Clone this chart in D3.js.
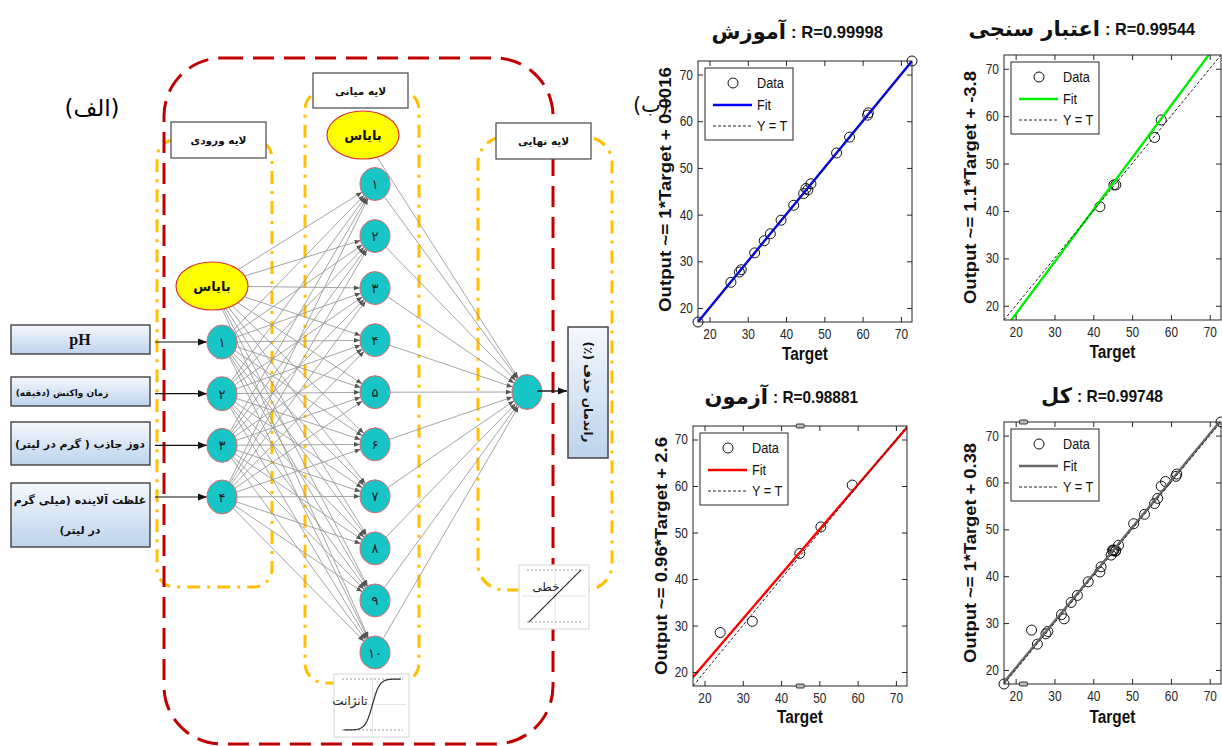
<!DOCTYPE html>
<html><head><meta charset="utf-8">
<script src="https://cdn.jsdelivr.net/npm/d3@7/dist/d3.min.js"></script>
<style>body{margin:0;background:#fff}svg{display:block}</style>
</head><body><svg id="c" width="1222" height="746"></svg>
<script>
// ---------------- DATA ----------------
const trainTarget = [17.0, 25.6, 27.8, 28.3, 31.8, 34.3, 35.9, 38.7, 42.0, 44.6, 45.2, 45.7, 46.5, 53.2, 56.6, 61.3, 61.5, 72.9];
const trainOutput = [17.0, 25.5, 27.7, 28.2, 31.8, 34.4, 35.9, 38.8, 42.0, 44.5, 45.6, 45.3, 46.6, 53.2, 56.6, 61.3, 61.8, 72.9];
const valTarget = [41.7, 45.3, 45.8, 55.8, 57.5];
const valOutput = [40.9, 45.5, 45.5, 55.5, 59.2];
const testTarget = [24.1, 32.5, 44.9, 50.4, 58.6];
const testOutput = [28.5, 30.9, 45.5, 51.2, 60.2];
const allTarget = trainTarget.concat(valTarget, testTarget);
const allOutput = trainOutput.concat(valOutput, testOutput);
const tickValues = [20, 30, 40, 50, 60, 70];
const fitSlope = [1, 1.1, 0.96, 1];
const fitIntercept = [0.0016, -3.8, 2.6, 0.38];
const rValues = ["0.99998", "0.99544", "0.98881", "0.99748"];
const setNames = ["آموزش", "اعتبار سنجی", "آزمون", "کل"];
const yLabels = ["Output ~= 1*Target + 0.0016", "Output ~= 1.1*Target + -3.8", "Output ~= 0.96*Target + 2.6", "Output ~= 1*Target + 0.38"];
const legendLabels = ["Data", "Fit", "Y = T"];

const inputDigits = ["۱", "۲", "۳", "۴"];
const hiddenDigits = ["۱", "۲", "۳", "۴", "۵", "۶", "۷", "۸", "۹", "۱۰"];
const inputLabels = [["pH"], ["زمان واکنش (دقیقه)"], ["دوز جاذب ( گرم در لیتر)"], ["غلظت آلاینده (میلی گرم", "در لیتر)"]];
const layerLabels = ["لایه ورودی", "لایه میانی", "لایه نهایی"];
const biasLabel = "بایاس";
const outputLabel = "راندمان حذف (٪)";
const actLabels = ["تانژانت", "خطی"];

// ---------------- SETUP ----------------
const svg = d3.select("#c");
const defs = svg.append("defs");
const SANS = "'Liberation Sans', Arial, sans-serif";
const FA = "'DejaVu Sans', sans-serif";

const grad = defs.append("linearGradient").attr("id", "gb").attr("x1", 0).attr("y1", 0).attr("x2", 0).attr("y2", 1);
grad.append("stop").attr("offset", "0%").attr("stop-color", "#f5f8fd");
grad.append("stop").attr("offset", "100%").attr("stop-color", "#bdd3ec");

function marker(id, size, color) {
  defs.append("marker").attr("id", id).attr("viewBox", "0 -5 10 10").attr("refX", 10).attr("refY", 0)
    .attr("markerWidth", size).attr("markerHeight", size).attr("markerUnits", "userSpaceOnUse").attr("orient", "auto")
    .append("path").attr("d", "M0,-4L10,0L0,4Z").attr("fill", color);
}
marker("ag", 6, "#555");
marker("ab", 9, "#111");

// ---------------- NETWORK DIAGRAM ----------------
const net = svg.append("g");

net.append("text").attr("x", 92).attr("y", 116).attr("text-anchor", "middle").attr("font-family", FA)
  .attr("font-size", 23).attr("direction", "rtl").text("(الف)");

const frames = [{x: 157, y: 140, w: 115, h: 447, r: 18}, {x: 305, y: 90, w: 114, h: 593, r: 20}, {x: 478, y: 137, w: 134, h: 453, r: 26}];
net.selectAll("rect.fr").data(frames).join("rect").attr("x", d => d.x).attr("y", d => d.y).attr("width", d => d.w).attr("height", d => d.h)
  .attr("rx", d => d.r).attr("fill", "none").attr("stroke", "#ffc000").attr("stroke-width", 3).attr("stroke-dasharray", "13,7,3,7");

net.append("rect").attr("x", 164).attr("y", 58).attr("width", 389).attr("height", 686).attr("rx", 58)
  .attr("fill", "none").attr("stroke", "#c00000").attr("stroke-width", 3).attr("stroke-dasharray", "21,10");

const lboxes = [{x: 171, y: 122, w: 95, h: 36}, {x: 313, y: 73, w: 95, h: 35}, {x: 496, y: 123, w: 95, h: 36}];
lboxes.forEach((b, i) => {
  net.append("rect").attr("x", b.x).attr("y", b.y).attr("width", b.w).attr("height", b.h).attr("fill", "#fff").attr("stroke", "#555").attr("stroke-width", 1.3);
  net.append("text").attr("x", b.x + b.w / 2).attr("y", b.y + b.h / 2 + 4).attr("text-anchor", "middle").attr("direction", "rtl")
    .attr("font-family", FA).attr("font-weight", "bold").attr("font-size", 10.5).attr("fill", "#111").text(layerLabels[i]);
});

const yIn = d3.scalePoint().domain(inputDigits).range([342, 497]);
const yHid = d3.scalePoint().domain(hiddenDigits).range([184, 652.5]);
const inBias = {x: 212, y: 286, rx: 36, ry: 24};
const hBias = {x: 363, y: 135, rx: 36, ry: 24};
const inputs = inputDigits.map(d => ({x: 222, y: yIn(d), rx: 15, ry: 17, label: d}));
const hidden = hiddenDigits.map(d => ({x: 375, y: yHid(d), rx: 15, ry: 16.5, label: d}));
const outNode = {x: 527, y: 392, rx: 15, ry: 17.5};

function edge(c, p) {
  const dx = p.x - c.x, dy = p.y - c.y;
  const t = 1 / Math.sqrt((dx / c.rx) ** 2 + (dy / c.ry) ** 2);
  return [c.x + dx * t, c.y + dy * t];
}
const links = [];
[inBias].concat(inputs).forEach(s => hidden.forEach(t => links.push([s, t])));
[hBias].concat(hidden).forEach(s => links.push([s, outNode]));
net.selectAll("line.lk").data(links).join("line")
  .attr("x1", d => edge(d[0], d[1])[0]).attr("y1", d => edge(d[0], d[1])[1])
  .attr("x2", d => edge(d[1], d[0])[0]).attr("y2", d => edge(d[1], d[0])[1])
  .attr("stroke", "#9a9a9a").attr("stroke-width", 0.9).attr("marker-end", "url(#ag)");

const ibox = [{y: 325, h: 29}, {y: 377, h: 29}, {y: 422, h: 43}, {y: 483, h: 64}];
ibox.forEach((b, i) => {
  net.append("rect").attr("x", 11).attr("y", b.y).attr("width", 139).attr("height", b.h).attr("fill", "url(#gb)").attr("stroke", "#333").attr("stroke-width", 1.3);
  const lines = inputLabels[i];
  if (i === 0) {
    net.append("text").attr("x", 80).attr("y", b.y + 20).attr("text-anchor", "middle").attr("font-family", "'Liberation Serif', serif")
      .attr("font-weight", "bold").attr("font-size", 16).attr("fill", "#111").text(lines[0]);
  } else {
    const cx = i === 1 ? 62 : 80;
    const fs = i === 1 ? 9 : 11;
    lines.forEach((s, j) => {
      const yy = lines.length === 1 ? b.y + b.h / 2 + 4 : b.y + 21 + j * 30;
      net.append("text").attr("x", cx).attr("y", yy).attr("text-anchor", "middle").attr("direction", "rtl")
        .attr("font-family", FA).attr("font-weight", "bold").attr("font-size", fs).attr("fill", "#111").text(s);
    });
  }
  net.append("line").attr("x1", 155).attr("y1", inputs[i].y).attr("x2", inputs[i].x - inputs[i].rx).attr("y2", inputs[i].y)
    .attr("stroke", "#111").attr("stroke-width", 1.2).attr("marker-end", "url(#ab)");
});

[inBias, hBias].forEach(b => {
  net.append("ellipse").attr("cx", b.x).attr("cy", b.y).attr("rx", b.rx).attr("ry", b.ry).attr("fill", "#ffff00").attr("stroke", "#d33").attr("stroke-width", 1.2);
  net.append("text").attr("x", b.x).attr("y", b.y + 5).attr("text-anchor", "middle").attr("font-family", FA).attr("font-weight", "bold")
    .attr("font-size", 13).attr("fill", "#111").text(biasLabel);
});

const nodes = inputs.concat(hidden, [outNode]);
net.selectAll("ellipse.nd").data(nodes).join("ellipse").attr("cx", d => d.x).attr("cy", d => d.y).attr("rx", d => d.rx).attr("ry", d => d.ry)
  .attr("fill", "#17c4c6").attr("stroke", "#e06a6a").attr("stroke-width", 1);
net.selectAll("text.nd").data(nodes.filter(d => d.label)).join("text").attr("x", d => d.x).attr("y", d => d.y + 5)
  .attr("text-anchor", "middle").attr("font-family", FA).attr("font-size", 13).attr("fill", "#222").text(d => d.label);

net.append("line").attr("x1", 537).attr("y1", 391).attr("x2", 567).attr("y2", 391).attr("stroke", "#111").attr("stroke-width", 1.4).attr("marker-end", "url(#ab)");
net.append("rect").attr("x", 568).attr("y", 327).attr("width", 40).attr("height", 131).attr("fill", "url(#gb)").attr("stroke", "#444").attr("stroke-width", 1.5);
net.append("text").attr("transform", "translate(584,392) rotate(90)").attr("text-anchor", "middle").attr("direction", "rtl")
  .attr("font-family", FA).attr("font-weight", "bold").attr("font-size", 12).attr("fill", "#111").text(outputLabel);

function icon(bx, by, bw, bh, fn, label, lx, ly) {
  const g = net.append("g");
  g.append("rect").attr("x", bx).attr("y", by).attr("width", bw).attr("height", bh).attr("fill", "#fff").attr("stroke", "#ddd").attr("stroke-width", 1.2);
  const sx = d3.scaleLinear().domain([-1, 1]).range([bx + 10, bx + bw - 8]);
  const sy = d3.scaleLinear().domain([-1, 1]).range([by + bh - 7, by + 5]);
  g.append("line").attr("x1", sx(0)).attr("x2", sx(0)).attr("y1", by + 3).attr("y2", by + bh - 3).attr("stroke", "#e4e4e4");
  g.append("line").attr("x1", bx + 3).attr("x2", bx + bw - 3).attr("y1", sy(0)).attr("y2", sy(0)).attr("stroke", "#e4e4e4");
  [-1, 1].forEach(v => g.append("line").attr("x1", bx + 8).attr("x2", bx + bw - 6).attr("y1", sy(v)).attr("y2", sy(v))
    .attr("stroke", "#999").attr("stroke-dasharray", "2,2"));
  const pts = d3.range(-1, 1.0001, 0.05);
  g.append("path").attr("d", d3.line().x(d => sx(d)).y(d => sy(fn(d)))(pts)).attr("fill", "none").attr("stroke", "#333").attr("stroke-width", 1.2);
  g.append("text").attr("x", lx).attr("y", ly).attr("text-anchor", "middle").attr("font-family", FA).attr("font-size", 12).attr("fill", "#222").text(label);
}
icon(334, 674, 75, 63, d => Math.tanh(d * 4), actLabels[0], 350, 705);
icon(519, 565, 70, 64, d => d, actLabels[1], 546, 591);

// ---------------- REGRESSION PLOTS ----------------
const dom = d3.extent(allTarget.concat(allOutput));
const boxes = [
  {x0: 698, x1: 912, y0: 61, y1: 322},
  {x0: 1004, x1: 1221, y0: 55, y1: 320},
  {x0: 693, x1: 907, y0: 426, y1: 686},
  {x0: 1004, x1: 1221, y0: 422, y1: 684}
];
const sets = [[trainTarget, trainOutput], [valTarget, valOutput], [testTarget, testOutput], [allTarget, allOutput]];
const fitColors = ["#0000ff", "#00ee00", "#ff0000", "#686868"];
const titleY = [38, 35, 403, 402];
const titleRx = [791, 1105, 773, 1077];
const titleRLen = [92, 90, 85, 86];
const yLabelX = [671, 976, 667, 976];
const yLabelLen = [245, 233, 238, 220];
const xLabelY = [360, 358, 723, 723];
const glitches = [null, null, 45, 22];

sets.forEach((s, i) => {
  const b = boxes[i];
  const x = d3.scaleLinear().domain(dom).range([b.x0, b.x1]);
  const y = d3.scaleLinear().domain(dom).range([b.y1, b.y0]);
  const g = svg.append("g");
  const cid = "clip" + i;
  defs.append("clipPath").attr("id", cid).append("rect").attr("x", b.x0).attr("y", b.y0).attr("width", b.x1 - b.x0).attr("height", b.y1 - b.y0);
  g.append("rect").attr("x", b.x0).attr("y", b.y0).attr("width", b.x1 - b.x0).attr("height", b.y1 - b.y0).attr("fill", "#fff");

  const pts = s[0].map((t, k) => [t, s[1][k]]);
  g.append("g").selectAll("circle").data(pts).join("circle")
    .attr("cx", d => x(d[0])).attr("cy", d => y(d[1])).attr("r", 5).attr("fill", "none").attr("stroke", "#111").attr("stroke-width", 1);
  const pl = g.append("g").attr("clip-path", `url(#${cid})`);
  const fy = v => fitSlope[i] * v + fitIntercept[i];
  pl.append("line").attr("x1", x(dom[0] - 2)).attr("y1", y(fy(dom[0] - 2))).attr("x2", x(dom[1] + 2)).attr("y2", y(fy(dom[1] + 2)))
    .attr("stroke", fitColors[i]).attr("stroke-width", 2.4);
  pl.append("line").attr("x1", x(dom[0])).attr("y1", y(dom[0])).attr("x2", x(dom[1])).attr("y2", y(dom[1]))
    .attr("stroke", "#222").attr("stroke-width", 1).attr("stroke-dasharray", "3,2");

  const styleAx = (sel, keepText) => {
    sel.select(".domain").remove();
    sel.selectAll(".tick line").attr("stroke", "#262626");
    sel.selectAll("text").attr("fill", "#262626").attr("font-family", SANS).attr("font-size", 14).attr("transform", "scale(0.85,1)");
    if (!keepText) sel.selectAll("text").remove();
  };
  g.append("g").attr("transform", `translate(0,${b.y1})`).call(d3.axisBottom(x).tickValues(tickValues).tickSizeInner(-5).tickSizeOuter(0).tickPadding(7)).call(a => styleAx(a, true));
  g.append("g").attr("transform", `translate(0,${b.y0})`).call(d3.axisTop(x).tickValues(tickValues).tickSizeInner(-5).tickSizeOuter(0)).call(a => styleAx(a, false));
  g.append("g").attr("transform", `translate(${b.x0},0)`).call(d3.axisLeft(y).tickValues(tickValues).tickSizeInner(-5).tickSizeOuter(0).tickPadding(6)).call(a => styleAx(a, true));
  g.append("g").attr("transform", `translate(${b.x1},0)`).call(d3.axisRight(y).tickValues(tickValues).tickSizeInner(-5).tickSizeOuter(0)).call(a => styleAx(a, false));
  g.append("rect").attr("x", b.x0).attr("y", b.y0).attr("width", b.x1 - b.x0).attr("height", b.y1 - b.y0).attr("fill", "none").attr("stroke", "#262626").attr("stroke-width", 1);

  const lx = b.x0 + 7, ly = b.y0 + 7;
  const lg = g.append("g");
  lg.append("rect").attr("x", lx).attr("y", ly).attr("width", 88).attr("height", 72).attr("fill", "#fff").attr("stroke", "#262626").attr("stroke-width", 1);
  lg.append("circle").attr("cx", lx + 28).attr("cy", ly + 15).attr("r", 5).attr("fill", "none").attr("stroke", "#111");
  lg.append("line").attr("x1", lx + 8).attr("x2", lx + 47).attr("y1", ly + 37).attr("y2", ly + 37).attr("stroke", fitColors[i]).attr("stroke-width", 2.4);
  lg.append("line").attr("x1", lx + 8).attr("x2", lx + 47).attr("y1", ly + 58).attr("y2", ly + 58).attr("stroke", "#222").attr("stroke-dasharray", "3,2");
  legendLabels.forEach((t, k) => {
    lg.append("text").attr("transform", `translate(${lx + 52},${ly + [20, 42, 63][k]}) scale(0.85,1)`).attr("font-family", SANS)
      .attr("font-size", 15).attr("fill", "#111").text(t);
  });

  if (glitches[i] !== null) {
    [b.y0, b.y1].forEach(yy => {
      g.append("rect").attr("x", x(glitches[i]) - 4).attr("y", yy - 2).attr("width", 8).attr("height", 4).attr("rx", 1)
        .attr("fill", "#bbb").attr("stroke", "#333").attr("stroke-width", 1);
    });
  }

  const cx = (b.x0 + b.x1) / 2;
  g.append("text").attr("x", cx).attr("y", xLabelY[i]).attr("text-anchor", "middle").attr("font-family", SANS).attr("font-weight", "bold")
    .attr("font-size", 18).attr("textLength", 46).attr("lengthAdjust", "spacingAndGlyphs").attr("fill", "#111").text("Target");
  if (i === 0) {
    svg.append("text").attr("x", 651).attr("y", 112).attr("text-anchor", "middle").attr("direction", "rtl").attr("font-family", FA)
      .attr("font-size", 21).attr("fill", "#111").text("(ب)");
  }
  g.append("text").attr("transform", `translate(${yLabelX[i]},${(b.y0 + b.y1) / 2 + (i === 0 ? -2 : 0)}) rotate(-90)`).attr("text-anchor", "middle")
    .attr("font-family", SANS).attr("font-weight", "bold").attr("font-size", 17).attr("textLength", yLabelLen[i]).attr("lengthAdjust", "spacingAndGlyphs")
    .attr("fill", "#111").text(yLabels[i]);
  g.append("text").attr("x", titleRx[i]).attr("y", titleY[i]).attr("font-family", SANS).attr("font-weight", "bold").attr("font-size", 17)
    .attr("textLength", titleRLen[i]).attr("lengthAdjust", "spacingAndGlyphs").attr("fill", "#111").text(": R=" + rValues[i]);
  g.append("text").attr("x", titleRx[i] - 5).attr("y", titleY[i] + 1).attr("text-anchor", "end").attr("font-family", FA)
    .attr("font-weight", "bold").attr("font-size", 21).attr("fill", "#111").text(setNames[i]);
});
</script>
</body></html>
